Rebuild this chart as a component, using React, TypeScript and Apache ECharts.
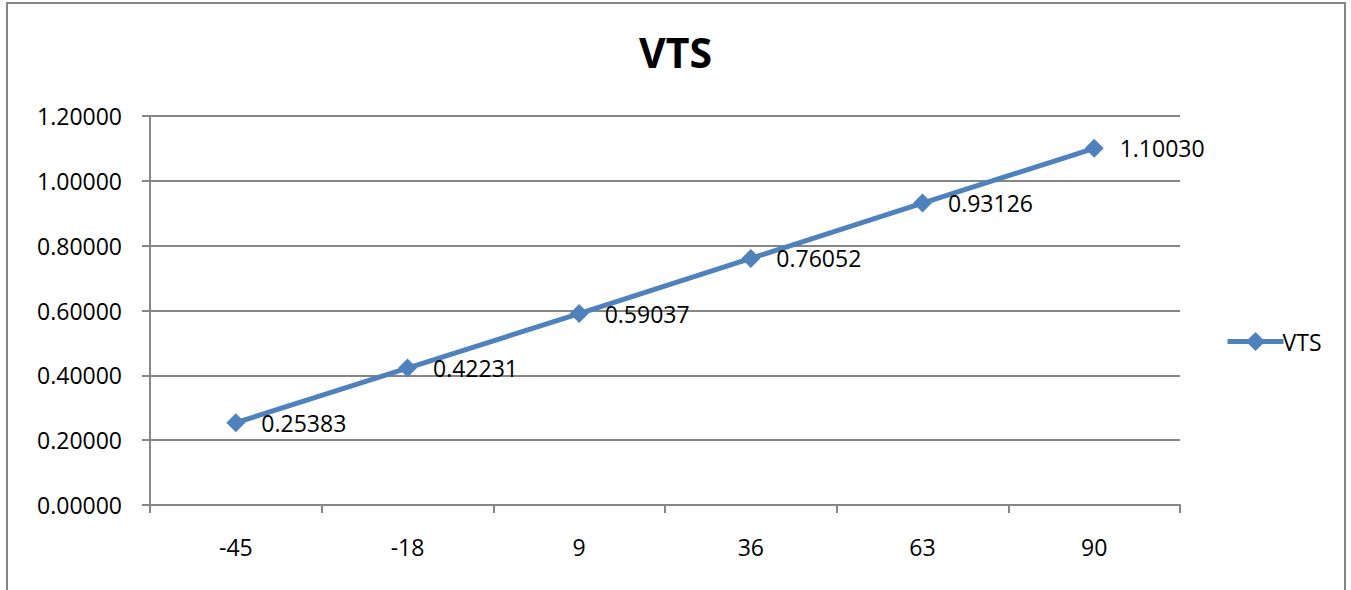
import React, { useEffect, useRef } from "react";
import * as echarts from "echarts";

const categories = ["-45", "-18", "9", "36", "63", "90"];
const vtsValues = [0.25383, 0.42231, 0.59037, 0.76052, 0.93126, 1.1003];
const seriesName = "VTS";
const titleText = "VTS";

const FONT = "'Open Sans', 'Noto Sans', sans-serif";
const GRID_COLOR = "#868686";
const LINE_COLOR = "#4F81BD";

export default function App() {
  const ref = useRef<HTMLDivElement>(null);
  useEffect(() => {
    if (!ref.current) return;
    const chart = echarts.init(ref.current, undefined, { renderer: "svg" });
    chart.setOption({
      animation: false,
      backgroundColor: "#ffffff",
      title: {
        text: titleText,
        left: "center",
        top: 26,
        textStyle: { fontFamily: FONT, fontSize: 41, fontWeight: "bold", color: "#000" },
      },
      legend: {
        left: 1220,
        top: 325,
        itemWidth: 56,
        itemHeight: 24,
        itemGap: 10,
        lineStyle: { width: 5, color: LINE_COLOR },
        itemStyle: { color: LINE_COLOR },
        textStyle: { fontFamily: FONT, fontSize: 23, color: "#000", padding: [0, 0, 0, -6] },
        data: [seriesName],
      },
      grid: { left: 150, right: 171, top: 116, bottom: 85, containLabel: false },
      xAxis: {
        type: "category",
        data: categories,
        boundaryGap: true,
        axisLine: { show: true, lineStyle: { color: GRID_COLOR, width: 2 } },
        axisTick: { show: true, length: 8, alignWithLabel: false, lineStyle: { color: GRID_COLOR, width: 2 } },
        axisLabel: { fontFamily: FONT, fontSize: 23, color: "#000", margin: 30 },
        splitLine: { show: false },
      },
      yAxis: {
        type: "value",
        min: 0,
        max: 1.2,
        interval: 0.2,
        axisLine: { show: true, lineStyle: { color: GRID_COLOR, width: 2 } },
        axisTick: { show: true, length: 8, lineStyle: { color: GRID_COLOR, width: 2 } },
        axisLabel: {
          fontFamily: FONT,
          fontSize: 23,
          color: "#000",
          margin: 28,
          formatter: (v: number) => v.toFixed(5),
        },
        splitLine: { show: true, lineStyle: { color: GRID_COLOR, width: 2 } },
      },
      series: [
        {
          name: seriesName,
          type: "line",
          data: vtsValues,
          symbol: "diamond",
          symbolSize: 19,
          color: LINE_COLOR,
          lineStyle: { color: LINE_COLOR, width: 5 },
          itemStyle: { color: LINE_COLOR },
          label: {
            show: true,
            position: "right",
            distance: 16,
            fontFamily: FONT,
            fontSize: 23,
            color: "#000",
            formatter: (p: any) => Number(p.value).toFixed(5),
          },
        },
      ],
      graphic: [
        {
          type: "rect",
          shape: { x: 7, y: 3, width: 1338, height: 640 },
          style: { fill: "none", stroke: GRID_COLOR, lineWidth: 2 },
          silent: true,
        },
      ],
    });
    return () => chart.dispose();
  }, []);
  return (
    <div
      ref={ref}
      style={{ position: "absolute", left: 0, top: 0, width: 1351, height: 590 }}
    />
  );
}
